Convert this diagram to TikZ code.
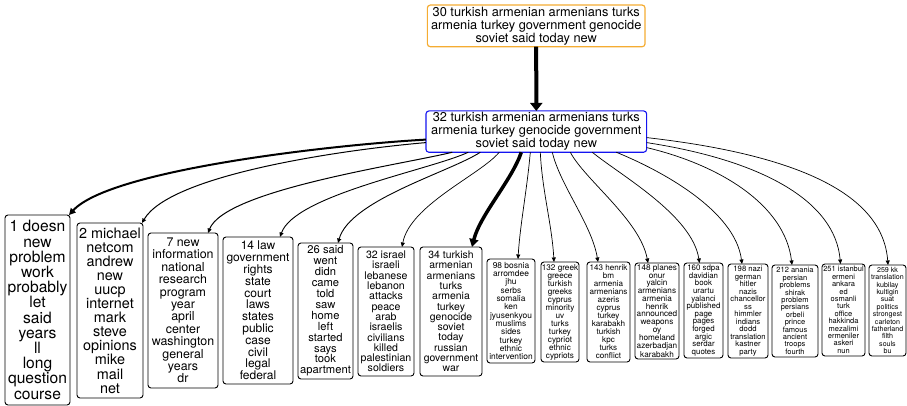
\documentclass[tikz,border=0pt]{standalone}
\usepackage{fontspec}
\setmainfont{TeX Gyre Heros}
\usetikzlibrary{arrows.meta}
\definecolor{hdrorange}{RGB}{245,172,50}
\definecolor{hdrblue}{RGB}{20,20,240}
\begin{document}
\begin{tikzpicture}[x=1pt,y=-1pt,
  every node/.style={inner sep=0pt, outer sep=0pt},
  topic/.style={draw, rounded corners=3pt, align=center, line width=0.9pt},
  leaf/.style n args={4}{topic, minimum width=#1, minimum height=#2,
    font=\fontsize{#3}{#4}\selectfont},
  link/.style={-{Triangle[length=4.5pt,width=4pt]}, line width=0.7pt},
]
\useasboundingbox (0,0) rectangle (907,406);

% cluster heads
\node[topic, draw=hdrorange, line width=1.2pt, minimum width=217.7, minimum height=41.7,
  font=\fontsize{12.8}{13}\selectfont] (top) at (536.2,25.9)
  {30 turkish armenian armenians turks\\armenia turkey government genocide\\soviet said today new};
\node[topic, draw=hdrblue, line width=1.1pt, minimum width=220.7, minimum height=41.3,
  font=\fontsize{12.8}{13}\selectfont] (mid) at (536.3,131.6)
  {32 turkish armenian armenians turks\\armenia turkey genocide government\\soviet said today new};

\draw[line width=4pt, -{Triangle[length=8pt,width=12pt]}] (top) -- (mid);

% sub-clusters
\node[leaf={65}{190}{15.6}{15.2}] (b1) at (37.5,310)
  {1 doesn\\new\\problem\\work\\probably\\let\\said\\years\\ll\\long\\question\\course};
\node[leaf={66}{175}{14.4}{14.1}] (b2) at (110,310.5)
  {2 michael\\netcom\\andrew\\new\\uucp\\internet\\mark\\steve\\opinions\\mike\\mail\\net};
\node[leaf={70}{155}{12.4}{12.4}] (b3) at (183,310.5)
  {7 new\\information\\national\\research\\program\\year\\april\\center\\washington\\general\\years\\dr};
\node[leaf={70}{147}{12.0}{11.8}] (b4) at (258,310.5)
  {14 law\\government\\rights\\state\\court\\laws\\states\\public\\case\\civil\\legal\\federal};
\node[leaf={55}{136}{11.2}{10.9}] (b5) at (325.5,311)
  {26 said\\went\\didn\\came\\told\\saw\\home\\left\\started\\says\\took\\apartment};
\node[leaf={56}{129}{10.6}{10.3}] (b6) at (386,311.5)
  {32 israel\\israeli\\lebanese\\lebanon\\attacks\\peace\\arab\\israelis\\civilians\\killed\\palestinian\\soldiers};
\node[leaf={62}{129}{10.4}{10.3}] (b7) at (451,311.5)
  {34 turkish\\armenian\\armenians\\turks\\armenia\\turkey\\genocide\\soviet\\today\\russian\\government\\war};
\node[leaf={48}{104}{8.4}{8.3}] (b8) at (511,311)
  {98 bosnia\\arromdee\\jhu\\serbs\\somalia\\ken\\jyusenkyou\\muslims\\sides\\turkey\\ethnic\\intervention};
\node[leaf={38}{100}{8.2}{8.0}] (b9) at (560,312)
  {132 greek\\greece\\turkish\\greeks\\cyprus\\minority\\uv\\turks\\turkey\\cypriot\\ethnic\\cypriots};
\node[leaf={43}{100}{8.1}{8.0}] (b10) at (608.5,312)
  {143 henrik\\bm\\armenia\\armenians\\azeris\\cyprus\\turkey\\karabakh\\turkish\\kpc\\turks\\conflict};
\node[leaf={44}{96}{8.2}{7.7}] (b11) at (657,311)
  {148 planes\\onur\\yalcin\\armenians\\armenia\\henrik\\announced\\weapons\\oy\\homeland\\azerbadjan\\karabakh};
\node[leaf={39}{95}{7.9}{7.6}] (b12) at (703.5,310.5)
  {160 sdpa\\davidian\\book\\urartu\\yalanci\\published\\page\\pages\\forged\\argic\\serdar\\quotes};
\node[leaf={40}{94}{7.7}{7.5}] (b13) at (748,311)
  {198 nazi\\german\\hitler\\nazis\\chancellor\\ss\\himmler\\indians\\dodd\\translation\\kastner\\party};
\node[leaf={46}{92}{7.5}{7.4}] (b14) at (795,311)
  {212 anania\\persian\\problems\\shirak\\problem\\persians\\orbeli\\prince\\famous\\ancient\\troops\\fourth};
\node[leaf={43}{92}{7.5}{7.4}] (b15) at (843.5,310)
  {251 istanbul\\ermeni\\ankara\\ed\\osmanli\\turk\\office\\hakkinda\\mezalimi\\ermeniler\\askeri\\nun};
\node[leaf={37}{91}{7.1}{7.4}] (b16) at (887.5,310.5)
  {259 kk\\translation\\kubilay\\kultigin\\suat\\politics\\strongest\\carleton\\fatherland\\filth\\souls\\bu};

% links from the head to each sub-cluster
\draw[link, line width=2pt, -{Triangle[length=6.5pt,width=6.5pt]}]
  ([yshift=-8]mid.west) .. controls (330,145) and (110,170) .. ([xshift=-1]b1.north east);
\draw[link, line width=1pt]
  ([yshift=-11]mid.west) .. controls (340,150) and (170,175) .. ([xshift=-1]b2.north east);
\draw[link, line width=1pt]
  ([xshift=-84]mid.south) .. controls (400,165) and (225,190) .. ([xshift=25]b3.north);
\draw[link, line width=0.9pt]
  ([xshift=-68]mid.south) .. controls (430,170) and (295,195) .. ([xshift=22]b4.north);
\draw[link, line width=0.9pt]
  ([xshift=-56]mid.south) .. controls (450,172) and (350,200) .. ([xshift=12.5]b5.north);
\draw[link]
  ([xshift=-37]mid.south) .. controls (480,175) and (410,205) .. ([xshift=16]b6.north);
\draw[link, line width=3.5pt, -{Triangle[length=8pt,width=9pt]}]
  ([xshift=-15]mid.south) .. controls (512,180) and (480,215) .. ([xshift=21]b7.north);
\draw[link]
  ([xshift=-6]mid.south) .. controls (527,190) and (520,225) .. ([xshift=7]b8.north);
\draw[link]
  ([xshift=4]mid.south) .. controls (542,190) and (552,225) .. ([xshift=-6]b9.north);
\draw[link]
  ([xshift=16]mid.south) .. controls (560,185) and (592,225) .. ([xshift=-10.5]b10.north);
\draw[link]
  ([xshift=34]mid.south) .. controls (585,180) and (640,220) .. ([xshift=-9]b11.north);
\draw[link]
  ([xshift=56]mid.south) .. controls (620,175) and (692,215) .. ([xshift=-4]b12.north);
\draw[link]
  ([xshift=80]mid.south) .. controls (660,170) and (735,210) .. ([xshift=-6]b13.north);
\draw[link]
  ([yshift=-16]mid.east) .. controls (720,165) and (785,205) .. ([xshift=-3]b14.north);
\draw[link]
  ([yshift=-11]mid.east) .. controls (760,160) and (835,200) .. ([xshift=-3]b15.north);
\draw[link]
  ([yshift=-6]mid.east) .. controls (800,155) and (883,195) .. ([xshift=0.5]b16.north);
\end{tikzpicture}
\end{document}
